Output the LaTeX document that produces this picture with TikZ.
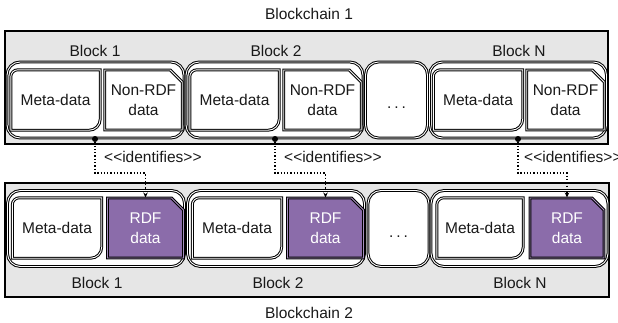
\documentclass[tikz,border=0pt]{standalone}
\usepackage{fontspec}
\setmainfont{Liberation Sans}
\usetikzlibrary{shapes.misc,arrows.meta}

\definecolor{chaingray}{RGB}{230,230,230}
\definecolor{rdfpurple}{RGB}{139,108,170}
\definecolor{inktext}{RGB}{25,25,25}

\tikzset{
	chain/.style={draw=black, fill=chaingray, line width=2.6pt},
	dbl/.style={draw=black, line width=1pt, double=white, double distance=0.9pt},
	block/.style={dbl, fill=white, rounded corners=13pt, minimum width=177pt, minimum height=76pt, inner sep=0pt},
	dotsblock/.style={block, minimum width=62pt},
	meta/.style={minimum width=89pt, minimum height=60pt, inner sep=0pt, text=inktext},
	nonrdf/.style={dbl, fill=white, chamfered rectangle, chamfered rectangle corners=north east,
		chamfered rectangle xsep=6pt, chamfered rectangle ysep=6pt,
		minimum width=76pt, minimum height=60pt, inner sep=0pt, align=center, text=inktext},
	rdf/.style={nonrdf, fill=rdfpurple, double=rdfpurple!75, text=white},
	hook/.style={circle, fill=black, inner sep=0pt, minimum size=6pt},
	ident/.style={line width=1.3pt, dash pattern=on 1.3pt off 2pt, -{Stealth[length=5pt,width=4.5pt]}},
	idlabel/.style={anchor=west, inner sep=0pt, text=inktext},
	lbl/.style={inner sep=0pt, text=inktext}
}

% meta-data box: two rounded corners, two sharp ones
\newcommand{\metaline}[1]{\draw[dbl] (#1.west) {[rounded corners=7pt] -- (#1.north west) -- (#1.north)} -- (#1.north east) -- (#1.east) {[rounded corners=11pt] -- (#1.south east) -- (#1.south)} -- (#1.south west) -- cycle;}
\newcommand{\ids}{<\kern0pt<identifies>\kern0pt>}

\begin{document}
\begin{tikzpicture}[x=1pt,y=-1pt,font=\fontsize{15.5}{20}\selectfont]
	\useasboundingbox (0,0) rectangle (618,322);
	% blockchain 1
	\node[lbl] (title1) at (309,14) {Blockchain 1};
	\draw[chain] (5,31) rectangle (608,144);
	\node[lbl] (top1) at (95,51) {Block 1};
	\node[lbl] (top2) at (276,51) {Block 2};
	\node[lbl] (topn) at (519,51) {Block N};
	\node[block] (b1) at (95.5,100) {};
	\node[block] (b2) at (274.5,100) {};
	\node[dotsblock] (bd) at (396.5,100) {};
	\node[block] (bn) at (518,100) {};
	\node[meta] (m1) at (55.5,100) {Meta-data};
	\metaline{m1}
	\node[nonrdf] (n1) at (143.5,100) {Non-RDF\\data};
	\node[meta] (m2) at (234.5,100) {Meta-data};
	\metaline{m2}
	\node[nonrdf] (n2) at (322.5,100) {Non-RDF\\data};
	\node[lbl] (dots1) at (396.5,108) {.\hspace{3pt}.\hspace{3pt}.};
	\node[meta] (mn) at (478,100) {Meta-data};
	\metaline{mn}
	\node[nonrdf] (nn) at (565.5,100) {Non-RDF\\data};

	% blockchain 2
	\node[lbl] (title2) at (309,313) {Blockchain 2};
	\draw[chain] (5,183) rectangle (609,297);
	\node[lbl] (bot1) at (97,283) {Block 1};
	\node[lbl] (bot2) at (278,283) {Block 2};
	\node[lbl] (botn) at (520,283) {Block N};
	\node[block] (c1) at (96,228.5) {};
	\node[block] (c2) at (276,228.5) {};
	\node[dotsblock, minimum width=61pt] (cd) at (398.5,228.5) {};
	\node[block] (cn) at (519.5,228.5) {};
	\node[meta] (p1) at (57,228) {Meta-data};
	\metaline{p1}
	\node[rdf] (r1) at (145.5,228) {RDF\\data};
	\node[meta] (p2) at (237,228) {Meta-data};
	\metaline{p2}
	\node[rdf] (r2) at (325.5,228) {RDF\\data};
	\node[lbl] (dots2) at (398.5,237) {.\hspace{3pt}.\hspace{3pt}.};
	\node[meta, minimum width=86pt] (pn) at (480,228) {Meta-data};
	\metaline{pn}
	\node[rdf, minimum width=74pt] (rn) at (567,228) {RDF\\data};

	% identifies links
	\node[hook] (h1) at (95,139) {};
	\node[hook] (h2) at (275,139) {};
	\node[hook] (hn) at (518,139) {};
	\draw[ident] (h1) -- ++(0,34) -| (r1.north);
	\draw[ident] (h2) -- ++(0,34) -| (r2.north);
	\draw[ident] (hn) -- ++(0,34) -| (rn.north);
	\node[idlabel] (id1) at (104,157) {\ids};
	\node[idlabel] (id2) at (284,157) {\ids};
	\node[idlabel] (idn) at (524,157) {\ids};
\end{tikzpicture}
\end{document}
